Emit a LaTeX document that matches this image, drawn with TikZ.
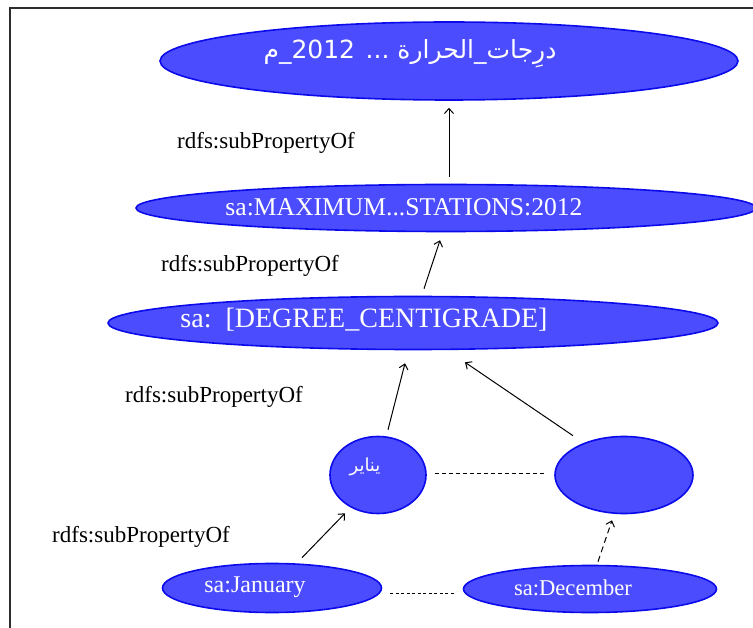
\documentclass[tikz,border=0pt]{standalone}
\usepackage{fontspec}
\setmainfont{Liberation Serif}
\newfontfamily\arabicfont[Script=Arabic]{DejaVu Sans}
\TeXXeTstate=1
\usetikzlibrary{arrows.meta,calc,shapes.geometric}
\definecolor{rdfblue}{RGB}{76,76,255}
\definecolor{rdfedge}{RGB}{10,10,235}
\definecolor{framegray}{RGB}{45,45,45}
\tikzset{
  prop/.style={ellipse,draw=rdfedge,line width=1.6pt,fill=rdfblue,inner sep=0pt},
  proptext/.style={text=white,inner sep=0pt,font=\fontsize{24}{28}\selectfont},
  subof/.style={line width=1pt,-{Straight Barb[length=5pt,width=9pt]}},
  rellabel/.style={inner sep=0pt,font=\fontsize{23}{27}\selectfont},
  gap/.style={line width=1pt,dash pattern=on 4pt off 3pt}
}

\begin{document}
\begin{tikzpicture}[x=1pt,y=-1pt]
  \useasboundingbox (0,0) rectangle (753,628);
  \draw[framegray,line width=1.5pt] (753,8) -- (10,8) -- (10,628);
  % property nodes
  \node[prop,minimum width=578,minimum height=78] (top) at (449,61) {};
  \node[prop,minimum width=620,minimum height=47] (max) at (446,208) {};
  \node[prop,minimum width=610,minimum height=53] (deg) at (413,323) {};
  \node[prop,minimum width=96,minimum height=77] (yan) at (378,475) {};
  \node[prop,minimum width=138,minimum height=77] (dar) at (624,475) {};
  \node[prop,minimum width=219,minimum height=49] (jan) at (272,588) {};
  \node[prop,minimum width=253,minimum height=47] (dec) at (590,589) {};
  % their texts
  \node[proptext,font=\arabicfont\fontsize{25}{30}\selectfont] (topt) at ($(top)+(-39,-7)$)
    {\beginR درِجات\_الحرارة ... \beginL 2012\endL\_م\endR};
  \node[proptext,font=\fontsize{25.6}{30}\selectfont] (maxt) at ($(max)+(-42,-1)$) {sa:MAXIMUM...STATIONS:2012};
  \node[proptext,font=\fontsize{28}{32}\selectfont] (degt) at ($(deg)+(-49,-3)$) {sa:\ \ [DEGREE\_CENTIGRADE]};
  \node[proptext,font=\arabicfont\fontsize{18}{21}\selectfont] (yant) at ($(yan)+(-13,-8)$) {\beginR يناير\endR};
  \node[proptext] (jant) at ($(jan)+(-17,-1)$) {sa:January};
  \node[proptext,font=\fontsize{22.6}{27}\selectfont] (dect) at ($(dec)+(-17,-1)$) {sa:December};
  % subproperty arrows
  \draw[subof] ($(max.north -| top.south)+(0,-7)$) -- ($(top.south)+(0,7)$);
  \draw[subof] ($(deg.north)+(11,-7)$) -- ($(max.south)+(-6,8)$);
  \draw[subof] ($(yan.north)+(10,-6)$) -- ($(deg.south)+(-8,13)$);
  \draw[subof] ($(dar.north)+(-51,0)$) -- ($(deg.south)+(52,12)$);
  \draw[subof] ($(jan.north)+(30,-5)$) -- ($(yan.south)+(-33,-1)$);
  \draw[subof,dash pattern=on 6pt off 4pt] ($(dec.north)+(8,-3)$) -- ($(dar.south)+(-12,6)$);
  \draw[gap,shorten <=8pt,shorten >=9pt] ($(yan.east)+(0,-2)$) -- ($(dar.west)+(0,-2)$);
  \draw[gap,dash pattern=on 3pt off 2.5pt,shorten <=8pt,shorten >=8pt] ($(jan.east)+(0,5)$) -- ($(dec.west)+(0,4)$);
  % labels
  \node[rellabel] (l1) at (266,143) {rdfs:subPropertyOf};
  \node[rellabel] (l2) at (250,266) {rdfs:subPropertyOf};
  \node[rellabel] (l3) at (214,397) {rdfs:subPropertyOf};
  \node[rellabel] (l4) at (141,537) {rdfs:subPropertyOf};
\end{tikzpicture}
\end{document}
